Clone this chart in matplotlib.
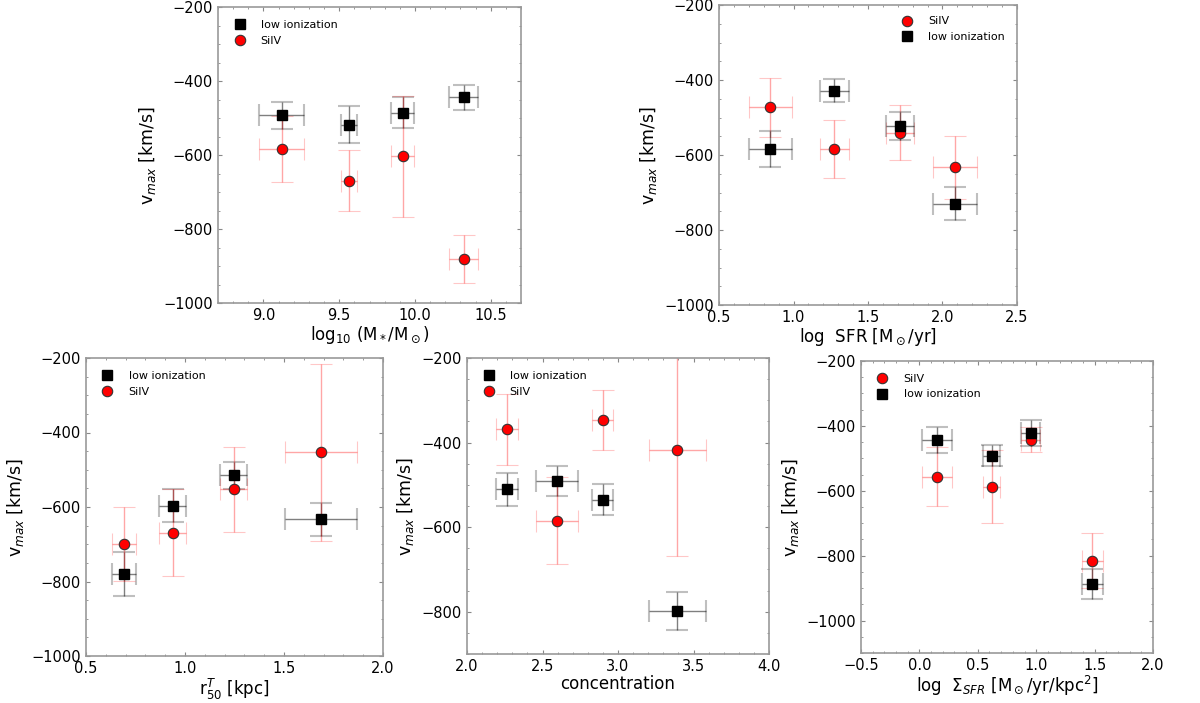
import numpy as np
import matplotlib
matplotlib.use("Agg")
import matplotlib.pyplot as plt
from matplotlib.lines import Line2D
from matplotlib.ticker import AutoMinorLocator

###
# DATA
###

# panel 1: stellar mass
mass_x = [9.12, 9.564, 9.918, 10.323]
mass_xerr = [0.15, 0.053, 0.077, 0.096]
mass_low = [-493, -518, -486, -444]
mass_low_err = [36, 50, 42, 34]
mass_si = [-584, -669, -604, -880]
mass_si_err = [89, 82, 163, 65]

# panel 2: SFR
sfr_x = [0.845, 1.275, 1.716, 2.083]
sfr_xerr = [0.142, 0.10, 0.092, 0.146]
sfr_low = [-584, -428, -523, -730]
sfr_low_err = [47, 31, 37, 44]
sfr_si = [-473, -584, -540, -633]
sfr_si_err = [79, 78, 73, 84]

# panel 3: half light radius
r50_x = [0.693, 0.937, 1.245, 1.685]
r50_xerr = [0.06, 0.066, 0.07, 0.182]
r50_low = [-780, -596, -515, -633]
r50_low_err = [58, 43, 37, 45]
r50_si = [-699, -669, -552, -453]
r50_si_err = [100, 117, 114, 237]

# panel 4: concentration
conc_x = [2.263, 2.595, 2.90, 3.394]
conc_xerr = [0.073, 0.139, 0.069, 0.189]
conc_low = [-510, -491, -535, -798]
conc_low_err = [39, 36, 36, 45]
conc_si = [-369, -585, -347, -417]
conc_si_err = [85, 103, 71, 251]

# panel 5: SFR surface density
ssfr_x = [0.151, 0.619, 0.955, 1.481]
ssfr_xerr = [0.127, 0.073, 0.081, 0.087]
ssfr_low = [-443, -492, -422, -887]
ssfr_low_err = [41, 33, 39, 47]
ssfr_si = [-556, -587, -442, -815]
ssfr_si_err = [92, 112, 38, 86]

W, H = 1200, 703

## marker styles shared by data points and legend handles
LOW_KW = dict(marker='s', color='black', ms=7)
SI_KW = dict(marker='o', color='red', mec='#333333', mew=0.8, ms=7.5)


def add_panel(fig, box):
    ## box in pixels: left, right, top, bottom
    l, r, t, b = box
    return fig.add_axes([l / W, (H - b) / H, (r - l) / W, (b - t) / H])


def draw(ax, x, xerr, low, low_err, si, si_err, si_first=False):
    def plot_low():
        eb = ax.errorbar(x, low, xerr=xerr, yerr=low_err, ls='none', ecolor='black',
                         elinewidth=1, capsize=8, capthick=1.5, **LOW_KW)
        eb[2][0].set_alpha(0.5); eb[2][1].set_alpha(0.5)
        for c in eb[1]:
            c.set_alpha(0.25)

    def plot_si():
        eb = ax.errorbar(x, si, xerr=xerr, yerr=si_err, ls='none', ecolor='red',
                         elinewidth=1, capsize=8, capthick=1.5, **SI_KW)
        eb[2][0].set_alpha(0.35); eb[2][1].set_alpha(0.35)
        for c in eb[1]:
            c.set_alpha(0.22)

    if si_first:
        plot_si()
        plot_low()
    else:
        plot_low()
        plot_si()


def style(ax, xlim, ylim, yticks, xticks):
    ax.set_xlim(*xlim)
    ax.set_ylim(*ylim)
    ax.set_yticks(yticks)
    ax.set_xticks(xticks)
    ax.xaxis.set_minor_locator(AutoMinorLocator())
    ax.yaxis.set_minor_locator(AutoMinorLocator())
    ax.tick_params(which='both', direction='in', top=True, right=True,
                   color='#888888', labelsize=10.5)
    ax.tick_params(which='major', length=3)
    ax.tick_params(which='minor', length=1.5)
    for s in ax.spines.values():
        s.set_color('#999999')
        s.set_linewidth(1.2)
    ax.set_ylabel(r'v$_{max}$ [km/s]', fontsize=12.5)


def legend(ax, order, loc, bbox):
    handles = {'low': Line2D([], [], ls='none', **LOW_KW),
               'si': Line2D([], [], ls='none', **SI_KW)}
    names = {'low': 'low ionization', 'si': 'SiIV'}
    ax.legend([handles[k] for k in order], [names[k] for k in order],
              loc=loc, bbox_to_anchor=bbox, frameon=False, fontsize=8,
              handlelength=1, handletextpad=1.4, labelspacing=0.5, numpoints=1)


def main():
    fig = plt.figure(figsize=(12, 7.03), dpi=100)

    ## top row
    ax1 = add_panel(fig, (218, 521, 7, 303))
    draw(ax1, mass_x, mass_xerr, mass_low, mass_low_err, mass_si, mass_si_err)
    style(ax1, (8.7, 10.7), (-1000, -200), np.arange(-1000, -199, 200), [9.0, 9.5, 10.0, 10.5])
    ax1.set_xlabel(r'log$_{10}$ (M$_*$/M$_\odot$)', fontsize=12, labelpad=1)
    legend(ax1, ['low', 'si'], 'upper left', (0.02, 0.99))

    ax2 = add_panel(fig, (719, 1017, 5, 305))
    draw(ax2, sfr_x, sfr_xerr, sfr_low, sfr_low_err, sfr_si, sfr_si_err, si_first=True)
    style(ax2, (0.5, 2.5), (-1000, -200), np.arange(-1000, -199, 200), [0.5, 1.0, 1.5, 2.0, 2.5])
    ax2.set_xlabel(r'log  SFR [M$_\odot$/yr]', fontsize=12, labelpad=1)
    legend(ax2, ['si', 'low'], 'upper right', (0.993, 0.995))

    ## bottom row
    ax3 = add_panel(fig, (86, 383, 358, 656))
    draw(ax3, r50_x, r50_xerr, r50_low, r50_low_err, r50_si, r50_si_err)
    style(ax3, (0.5, 2.0), (-1000, -200), np.arange(-1000, -199, 200), [0.5, 1.0, 1.5, 2.0])
    ax3.set_xlabel(r'r$^{T}_{50}$ [kpc]', fontsize=12, labelpad=1)
    legend(ax3, ['low', 'si'], 'upper left', (0.02, 0.99))

    ax4 = add_panel(fig, (467, 769, 358, 654))
    draw(ax4, conc_x, conc_xerr, conc_low, conc_low_err, conc_si, conc_si_err)
    style(ax4, (2.0, 4.0), (-900, -200), np.arange(-800, -199, 200), [2.0, 2.5, 3.0, 3.5, 4.0])
    ax4.set_xlabel('concentration', fontsize=12, labelpad=1)
    legend(ax4, ['low', 'si'], 'upper left', (0.02, 0.99))

    ax5 = add_panel(fig, (861, 1153, 361, 653))
    draw(ax5, ssfr_x, ssfr_xerr, ssfr_low, ssfr_low_err, ssfr_si, ssfr_si_err, si_first=True)
    style(ax5, (-0.5, 2.0), (-1100, -200), np.arange(-1000, -199, 200), [-0.5, 0.0, 0.5, 1.0, 1.5, 2.0])
    ax5.set_xlabel(r'log  $\Sigma_{SFR}$ [M$_\odot$/yr/kpc$^2$]', fontsize=12, labelpad=1)
    legend(ax5, ['si', 'low'], 'upper left', (0.02, 0.99))

    fig.savefig('out.png', dpi=100)


if __name__ == "__main__":
    main()
